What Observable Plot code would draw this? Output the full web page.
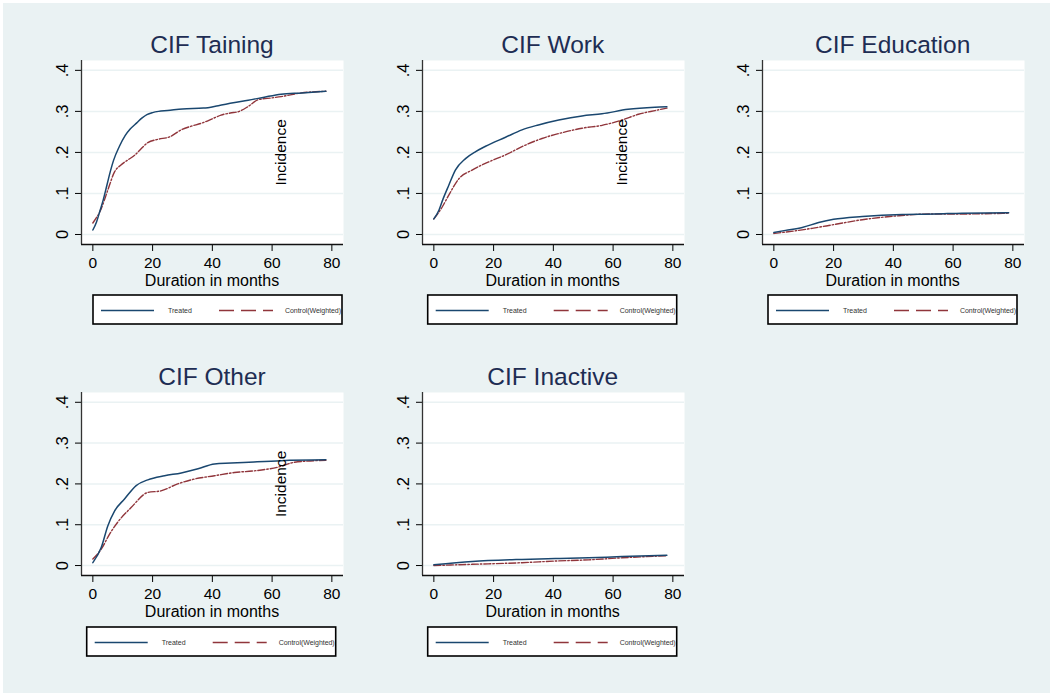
<!DOCTYPE html>
<html><head><meta charset="utf-8">
<script src="https://cdn.jsdelivr.net/npm/d3@7"></script>
<script src="https://cdn.jsdelivr.net/npm/@observablehq/plot@0.6"></script>
<style>
body{margin:0;background:#fff;}
#wrap{position:relative;width:1053px;height:696px;background:#fff;overflow:hidden;font-family:"Liberation Sans",Arial,sans-serif;}
#bg{position:absolute;left:3px;top:3px;width:1047px;height:690px;background:#eaf2f3;}
.panel{position:absolute;}
#overlay{position:absolute;left:0;top:0;}
</style></head><body><div id="wrap"><div id="bg"></div></div>
<script>
// ---------- data ----------
const titles = ["CIF Taining", "CIF Work", "CIF Education", "CIF Other", "CIF Inactive"];
const xTicks = [0, 20, 40, 60, 80];
const yTicks = [0, 0.1, 0.2, 0.3, 0.4];
const xTitle = "Duration in months";
const seriesNames = ["Treated", "Control(Weighted)"];
const incidenceText = "Incidence";
const incidenceAt = [{x: 63, y: 0.2}];
const showIncidence = [true, true, false, true, false];

const trainTreatedMonths = [0,1.2,2.4,3.5,4.7,5.9,6.9,8.9,10.8,12.5,14.7,16.5,18.1,20,22,25,30,37,42,47,52,57,63,70,78];
const trainTreatedCif    = [0.011,0.03,0.058,0.085,0.12,0.155,0.18,0.215,0.241,0.257,0.272,0.284,0.292,0.297,0.3,0.302,0.306,0.308,0.314,0.321,0.327,0.334,0.342,0.345,0.349];
const trainControlMonths = [0,2.8,5,7.3,9.3,12,14,16,18.4,21.8,25.7,29.6,33,36.3,40,42.9,46,49,52,55.2,60,63,69.8,78];
const trainControlCif    = [0.028,0.063,0.108,0.153,0.169,0.183,0.193,0.208,0.224,0.232,0.238,0.255,0.264,0.271,0.282,0.291,0.296,0.3,0.312,0.328,0.333,0.336,0.345,0.349];

const workTreatedMonths = [0,1.7,3,5,7.2,10.6,14,17.3,24,29.5,35,41.8,49.6,56.3,65,74,78];
const workTreatedCif    = [0.038,0.059,0.085,0.12,0.157,0.185,0.202,0.215,0.237,0.255,0.267,0.279,0.289,0.294,0.305,0.31,0.311];
const workControlMonths = [0,2.8,5,8.4,12.8,18.4,24,29.5,36.2,42.9,49.6,56.3,63,68.5,74,78];
const workControlCif    = [0.038,0.067,0.096,0.136,0.157,0.177,0.194,0.214,0.234,0.248,0.259,0.266,0.279,0.293,0.302,0.308];

const eduTreatedMonths = [0,3.9,9.5,15,20,29.6,43,54,63,78.6];
const eduTreatedCif    = [0.005,0.01,0.017,0.029,0.037,0.044,0.049,0.05,0.052,0.053];
const eduControlMonths = [0,7.3,12.8,20,29.6,40.7,51.9,63,78.6];
const eduControlCif    = [0.0025,0.009,0.015,0.024,0.036,0.045,0.05,0.05,0.052];

const otherTreatedMonths = [0,2.8,5,7.3,10.6,14.5,18.4,24,29.6,35.2,40.7,46.3,54,63,78];
const otherTreatedCif    = [0.007,0.044,0.097,0.134,0.163,0.196,0.21,0.22,0.227,0.237,0.249,0.251,0.254,0.257,0.259];
const otherControlMonths = [0,2.8,5.6,8.4,12.8,18.4,22.8,28.4,34,40.7,47.4,54,61.9,67.5,78];
const otherControlCif    = [0.016,0.04,0.077,0.107,0.142,0.179,0.183,0.2,0.212,0.22,0.228,0.232,0.241,0.253,0.258];

const inactTreatedMonths = [0,12.8,29.5,40.7,51.8,63,78];
const inactTreatedCif    = [0.002,0.01,0.015,0.017,0.019,0.022,0.025];
const inactControlMonths = [0,12.8,29.5,40.7,51.8,63,78];
const inactControlCif    = [0,0.003,0.007,0.011,0.014,0.019,0.024];

// ---------- build ----------
const toRows = (xs, ys) => xs.map((x, i) => ({x, y: ys[i]}));
const panels = [
  [toRows(trainTreatedMonths, trainTreatedCif), toRows(trainControlMonths, trainControlCif)],
  [toRows(workTreatedMonths, workTreatedCif), toRows(workControlMonths, workControlCif)],
  [toRows(eduTreatedMonths, eduTreatedCif), toRows(eduControlMonths, eduControlCif)],
  [toRows(otherTreatedMonths, otherTreatedCif), toRows(otherControlMonths, otherControlCif)],
  [toRows(inactTreatedMonths, inactTreatedCif), toRows(inactControlMonths, inactControlCif)]
];

// layout (frame left, frame top, frame height, legend box left/top)
const layout = [
  {fx: 81,    fy: 60,  fh: 184, lx: 93,    ly: 295},
  {fx: 421.7, fy: 60,  fh: 184, lx: 427.7, ly: 295},
  {fx: 761.7, fy: 60,  fh: 184, lx: 768,   ly: 295},
  {fx: 81,    fy: 392, fh: 183, lx: 86.7,  ly: 627},
  {fx: 421.7, fy: 392, fh: 183, lx: 427.7, ly: 627}
];
const FW = 262, ML = 48, MR = 2, MT = 8, MB = 32;
const xDomain = [-3.8, 83.9], yDomain = [-0.0244, 0.424];
const colTreated = "#1a476f", colControl = "#90353b";
const font = '"Liberation Sans", Arial, sans-serif';
const yFmt = d => d === 0 ? "0" : d3.format(".1f")(d).replace(/^0/, "");

const wrap = document.getElementById("wrap");

panels.forEach((series, i) => {
  const L = layout[i];
  const marks = [
    Plot.frame({fill: "white", stroke: "none"}),
    Plot.ruleY(yTicks, {stroke: "#eaf2f3", strokeWidth: 1.5}),
    Plot.line(series[1], {x: "x", y: "y", stroke: colControl, strokeWidth: 1.4, strokeDasharray: "7,2,1.5,2", curve: "monotone-x"}),
    Plot.line(series[0], {x: "x", y: "y", stroke: colTreated, strokeWidth: 1.5, curve: "monotone-x"}),
    Plot.ruleX([xDomain[0]], {stroke: "#333", strokeWidth: 1.3}),
    Plot.ruleY([yDomain[0]], {stroke: "#111", strokeWidth: 1.3}),
    Plot.text(yTicks, {y: d => d, text: yFmt, frameAnchor: "left", dx: -19, rotate: -90, textAnchor: "middle", lineAnchor: "middle", fontSize: 16.5, fill: "#000"})
  ];
  if (showIncidence[i]) {
    marks.push(Plot.text(incidenceAt, {x: "x", y: "y", text: () => incidenceText, rotate: -90, textAnchor: "middle", lineAnchor: "middle", fontSize: 15.5, fill: "#000"}));
  }
  const chart = Plot.plot({
    width: FW + ML + MR,
    height: L.fh + MT + MB,
    marginLeft: ML, marginRight: MR, marginTop: MT, marginBottom: MB,
    x: {type: "linear", domain: xDomain, ticks: xTicks, tickSize: 7, tickPadding: 5, label: null, tickFormat: d => String(d)},
    y: {type: "linear", domain: yDomain, ticks: yTicks, tickSize: 6, tickFormat: () => "", label: null},
    style: {background: "transparent", fontFamily: font, fontSize: "15.5px", color: "#000", overflow: "visible"},
    marks
  });
  chart.classList.add("panel");
  chart.style.left = (L.fx - ML) + "px";
  chart.style.top = (L.fy - MT) + "px";
  wrap.appendChild(chart);
});

// overlay: titles, axis titles, legends
const svg = d3.select(wrap).append("svg").attr("id", "overlay").attr("width", 1053).attr("height", 696)
  .style("font-family", font);
layout.forEach((L, i) => {
  const cx = L.fx + FW / 2;
  const bottom = L.fy + L.fh;
  svg.append("text").attr("x", cx).attr("y", L.fy - 7).attr("text-anchor", "middle")
    .attr("font-size", 24.5).attr("fill", "#1e2d53").text(titles[i]);
  svg.append("text").attr("x", cx).attr("y", bottom + 42).attr("text-anchor", "middle")
    .attr("font-size", 16).attr("fill", "#000").text(xTitle);
  const g = svg.append("g").attr("transform", `translate(${L.lx},${L.ly})`);
  const lw = 249, lh = 29;
  g.append("rect").attr("width", lw).attr("height", lh).attr("fill", "#fff").attr("stroke", "#000").attr("stroke-width", 1.6);
  const cy = 15.5;
  g.append("line").attr("x1", 8).attr("x2", 61).attr("y1", cy).attr("y2", cy).attr("stroke", colTreated).attr("stroke-width", 1.5);
  g.append("text").attr("x", 75).attr("y", cy + 2.5).attr("font-size", 7).attr("fill", "#333").text(seriesNames[0]);
  g.append("line").attr("x1", 126).attr("x2", 180).attr("y1", cy).attr("y2", cy).attr("stroke", colControl).attr("stroke-width", 1.5).attr("stroke-dasharray", "15,7");
  g.append("text").attr("x", 192).attr("y", cy + 2.5).attr("font-size", 7).attr("fill", "#333").attr("textLength", 56).text(seriesNames[1]);
});
</script></body></html>
